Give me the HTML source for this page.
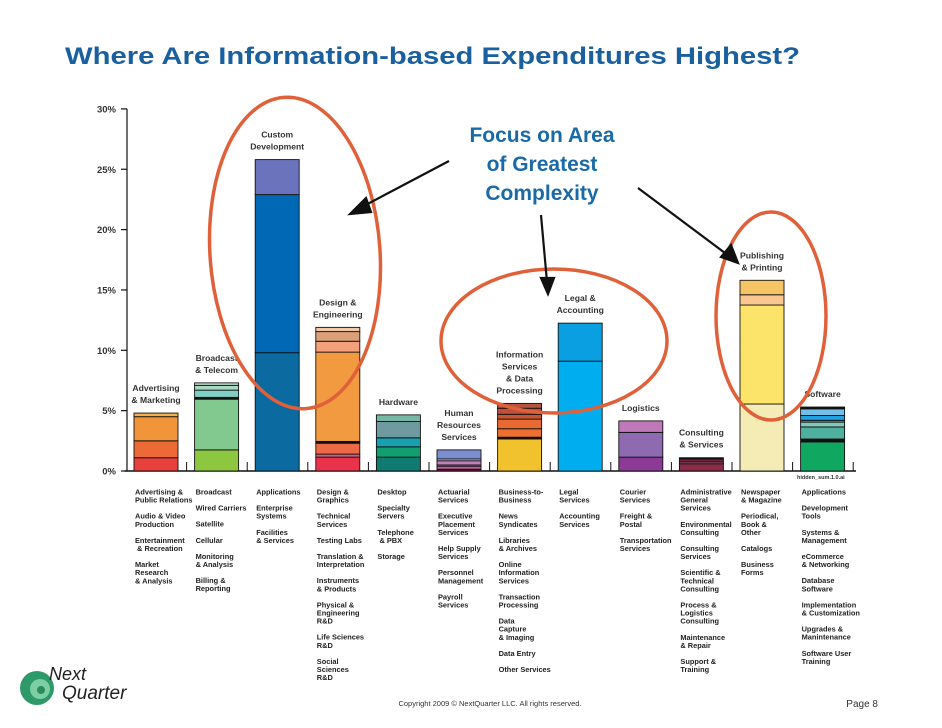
<!DOCTYPE html>
<html><head><meta charset="utf-8"><style>
html,body{margin:0;padding:0;background:#fff;}
svg{display:block;font-family:"Liberation Sans",Arial,sans-serif;}
.bl{font-size:8.6px;font-weight:bold;fill:#333;}
.cl{font-size:7.4px;fill:#222;font-weight:bold;}
</style></head><body>
<svg id="chart" width="942" height="728" viewBox="0 0 942 728">
<text x="65" y="64" font-size="24" font-weight="bold" fill="#1a5f9e" textLength="735" lengthAdjust="spacingAndGlyphs">Where Are Information-based Expenditures Highest?</text>
<g id="axis"></g>
<g id="bars"></g>
<g id="labels"></g>
<g id="cats"></g>
<g fill="none" stroke="#e0603a" stroke-width="3.5">
<ellipse cx="295" cy="253" rx="85" ry="156" transform="rotate(-4 295 253)"/>
<ellipse cx="554" cy="341" rx="113" ry="72"/>
<ellipse cx="771" cy="316" rx="55" ry="104"/>
</g>
<g stroke="#111" stroke-width="2.2">
<line x1="449" y1="161" x2="360" y2="208"/><polygon points="350,214 366,198 371,212" fill="#111"/>
<line x1="541" y1="215" x2="547" y2="282"/><polygon points="548,294 541,278 554,278" fill="#111"/>
<line x1="638" y1="188" x2="729" y2="256"/><polygon points="738,263 721,257 731,245" fill="#111"/>
</g>
<g font-size="21" font-weight="bold" fill="#1a6aa8" text-anchor="middle">
<text x="542" y="142">Focus on Area</text><text x="542" y="171">of Greatest</text><text x="542" y="200">Complexity</text>
</g>
<text x="797" y="479" font-size="5.5" fill="#333" font-weight="bold">hidden_sum.1.0.ai</text>
<text x="490" y="706" font-size="7.5" fill="#333" text-anchor="middle">Copyright 2009 © NextQuarter LLC.  All rights reserved.</text>
<text x="878" y="707" font-size="10" fill="#333" text-anchor="end">Page 8</text>
<g>
<circle cx="37" cy="688" r="17" fill="#2e9a6a"/><circle cx="40" cy="689" r="10" fill="#7ccfa5"/><circle cx="41" cy="690" r="4" fill="#2e8a5a"/>
<text x="49" y="680" font-size="18" font-style="italic" fill="#222">Next</text>
<text x="62" y="699" font-size="19" font-style="italic" fill="#222">Quarter</text>
</g>
</svg>
<script>
const yTicks=[0,5,10,15,20,25,30];
const categories=["Advertising & Marketing","Broadcast & Telecom","Custom Development","Design & Engineering","Hardware","Human Resources Services","Information Services & Data Processing","Legal & Accounting","Logistics","Consulting & Services","Publishing & Printing","Software"];
const seg0=[1.1,1.4,2.0,0.3];
const seg1=[1.75,4.2,0.15,0.6,0.4,0.2];
const seg2=[9.8,13.1,2.9];
const seg3=[1.15,0.25,0.9,0.15,7.4,0.9,0.8,0.35];
const seg4=[1.15,0.85,0.75,1.35,0.55];
const seg5=[0.15,0.25,0.1,0.35,0.15,0.75];
const seg6=[2.65,0.15,0.7,0.8,0.4,0.5,0.4];
const seg7=[9.1,3.15];
const seg8=[1.15,2.05,0.95];
const seg9=[0.6,0.15,0.25,0.1];
const seg10=[5.55,8.2,0.85,1.2];
const seg11=[2.4,0.25,1.0,0.4,0.15,0.4,0.55,0.15];
const segments=[seg0,seg1,seg2,seg3,seg4,seg5,seg6,seg7,seg8,seg9,seg10,seg11];
const palettes=[["#e8403a","#ec6a35","#f0953a","#f5b04a"],["#8dc63f","#82c990","#111","#7ecfc5","#a8d8c0","#c5e6d2"],["#0b6aa0","#0068b5","#6b73bd"],["#e8334a","#d85a78","#ec6a45","#111","#f29a40","#f4a07a","#d9a07a","#f0c8a8"],["#0f7a70","#10a070","#17a0b0","#6f9aa0","#77b8a5"],["#7a1040","#c060a0","#e0c0e0","#c080c0","#f0d0f0","#7a8ed0"],["#f2c22e","#111","#ec7030","#e86a30","#c85530","#c0503a","#b55540"],["#00aeef","#0a9fe0"],["#8b3a96","#8e6ab0","#c078b8"],["#8c2a4a","#b06080","#7a2040","#111"],["#f5ebb5","#fce46a","#f8c890","#f5c565"],["#10a860","#111","#4fb0a0","#80c8b8","#40a8b0","#20a0e0","#70c0e8","#111"]];
const barLabels=[["Advertising","& Marketing"],["Broadcast","& Telecom"],["Custom","Development"],["Design &","Engineering"],["Hardware"],["Human","Resources","Services"],["Information","Services","& Data","Processing"],["Legal &","Accounting"],["Logistics"],["Consulting","& Services"],["Publishing","& Printing"],["Software"]];
const subcats=[
["Advertising &|Public Relations","Audio & Video|Production","Entertainment| & Recreation","Market|Research|& Analysis"],
["Broadcast","Wired Carriers","Satellite","Cellular","Monitoring|& Analysis","Billing &|Reporting"],
["Applications","Enterprise|Systems","Facilities|& Services"],
["Design &|Graphics","Technical|Services","Testing Labs","Translation &|Interpretation","Instruments|& Products","Physical &|Engineering|R&D","Life Sciences|R&D","Social|Sciences|R&D"],
["Desktop","Specialty|Servers","Telephone| & PBX","Storage"],
["Actuarial|Services","Executive|Placement|Services","Help Supply|Services","Personnel|Management","Payroll|Services"],
["Business-to-|Business","News|Syndicates","Libraries|& Archives","Online|Information|Services","Transaction|Processing","Data|Capture|& Imaging","Data Entry","Other Services"],
["Legal|Services","Accounting|Services"],
["Courier|Services","Freight &|Postal","Transportation|Services"],
["Administrative|General|Services","Environmental|Consulting","Consulting|Services","Scientific &|Technical|Consulting","Process &|Logistics|Consulting","Maintenance|& Repair","Support &|Training"],
["Newspaper|& Magazine","Periodical,|Book &|Other","Catalogs","Business|Forms"],
["Applications","Development|Tools","Systems &|Management","eCommerce|& Networking","Database|Software","Implementation|& Customization","Upgrades &|Manintenance","Software User|Training"]];
const NS="http://www.w3.org/2000/svg";
const y0=471,pxPer=12.07,x0=134,step=60.6,bw=44;
function yS(v){return y0-v*pxPer;}
function xS(i){return x0+i*step;}
function mk(tag,attrs,parent){const e=document.createElementNS(NS,tag);for(const k in attrs)e.setAttribute(k,attrs[k]);parent.appendChild(e);return e;}
const axis=document.getElementById('axis');
let l=mk('line',{x1:127,y1:yS(30),x2:127,y2:y0,stroke:'#111','stroke-width':1.2},axis);


l=mk('line',{x1:125,y1:y0,x2:856,y2:y0,stroke:'#111','stroke-width':1.6},axis);


yTicks.forEach(t=>{
 const tk=mk('line',{x1:121,y1:yS(t),x2:127,y2:yS(t),stroke:'#111','stroke-width':1.2},axis);
 
 
 const tx=mk('text',{x:116,y:yS(t)+3.5,'font-size':9.5,'font-weight':'bold','fill':'#333','text-anchor':'end'},axis);
 tx.textContent=t+'%';
 
 
});
for(let i=1;i<=12;i++){
 const tk=mk('line',{x1:xS(i)-8,y1:y0-9,x2:xS(i)-8,y2:y0,stroke:'#111','stroke-width':1},axis);
 
 
}
const bars=document.getElementById('bars');
segments.forEach((segs,i)=>{
 let cum=0;
 const g=mk('g',{},bars);
 
 
 segs.forEach((v,j)=>{
  const r=mk('rect',{x:xS(i),y:yS(cum+v),width:bw,height:v*pxPer,fill:palettes[i][j%palettes[i].length],stroke:'#111','stroke-width':0.9},g);
  
  
  cum+=v;
 });
 // label
 const lab=document.getElementById('labels');
 const lines=barLabels[i];
 const lh=12,top=yS(cum)-10-(lines.length-1)*lh;
 const t=mk('text',{class:'bl','text-anchor':'middle'},lab);
 
 
 lines.forEach((s,k)=>{const ts=mk('tspan',{x:xS(i)+bw/2,y:top+k*lh},t);ts.textContent=s;});
 // subcats
 const cats=document.getElementById('cats');
 let yy=492;
 const ct=mk('text',{class:'cl'},cats);
 
 
 subcats[i].forEach(item=>{
  item.split('|').forEach(s=>{const ts=mk('tspan',{x:xS(i)+1,y:yy+2.5},ct);ts.textContent=s;yy+=8.1;});
  yy+=8;
 });
});
</script>
</body></html>
